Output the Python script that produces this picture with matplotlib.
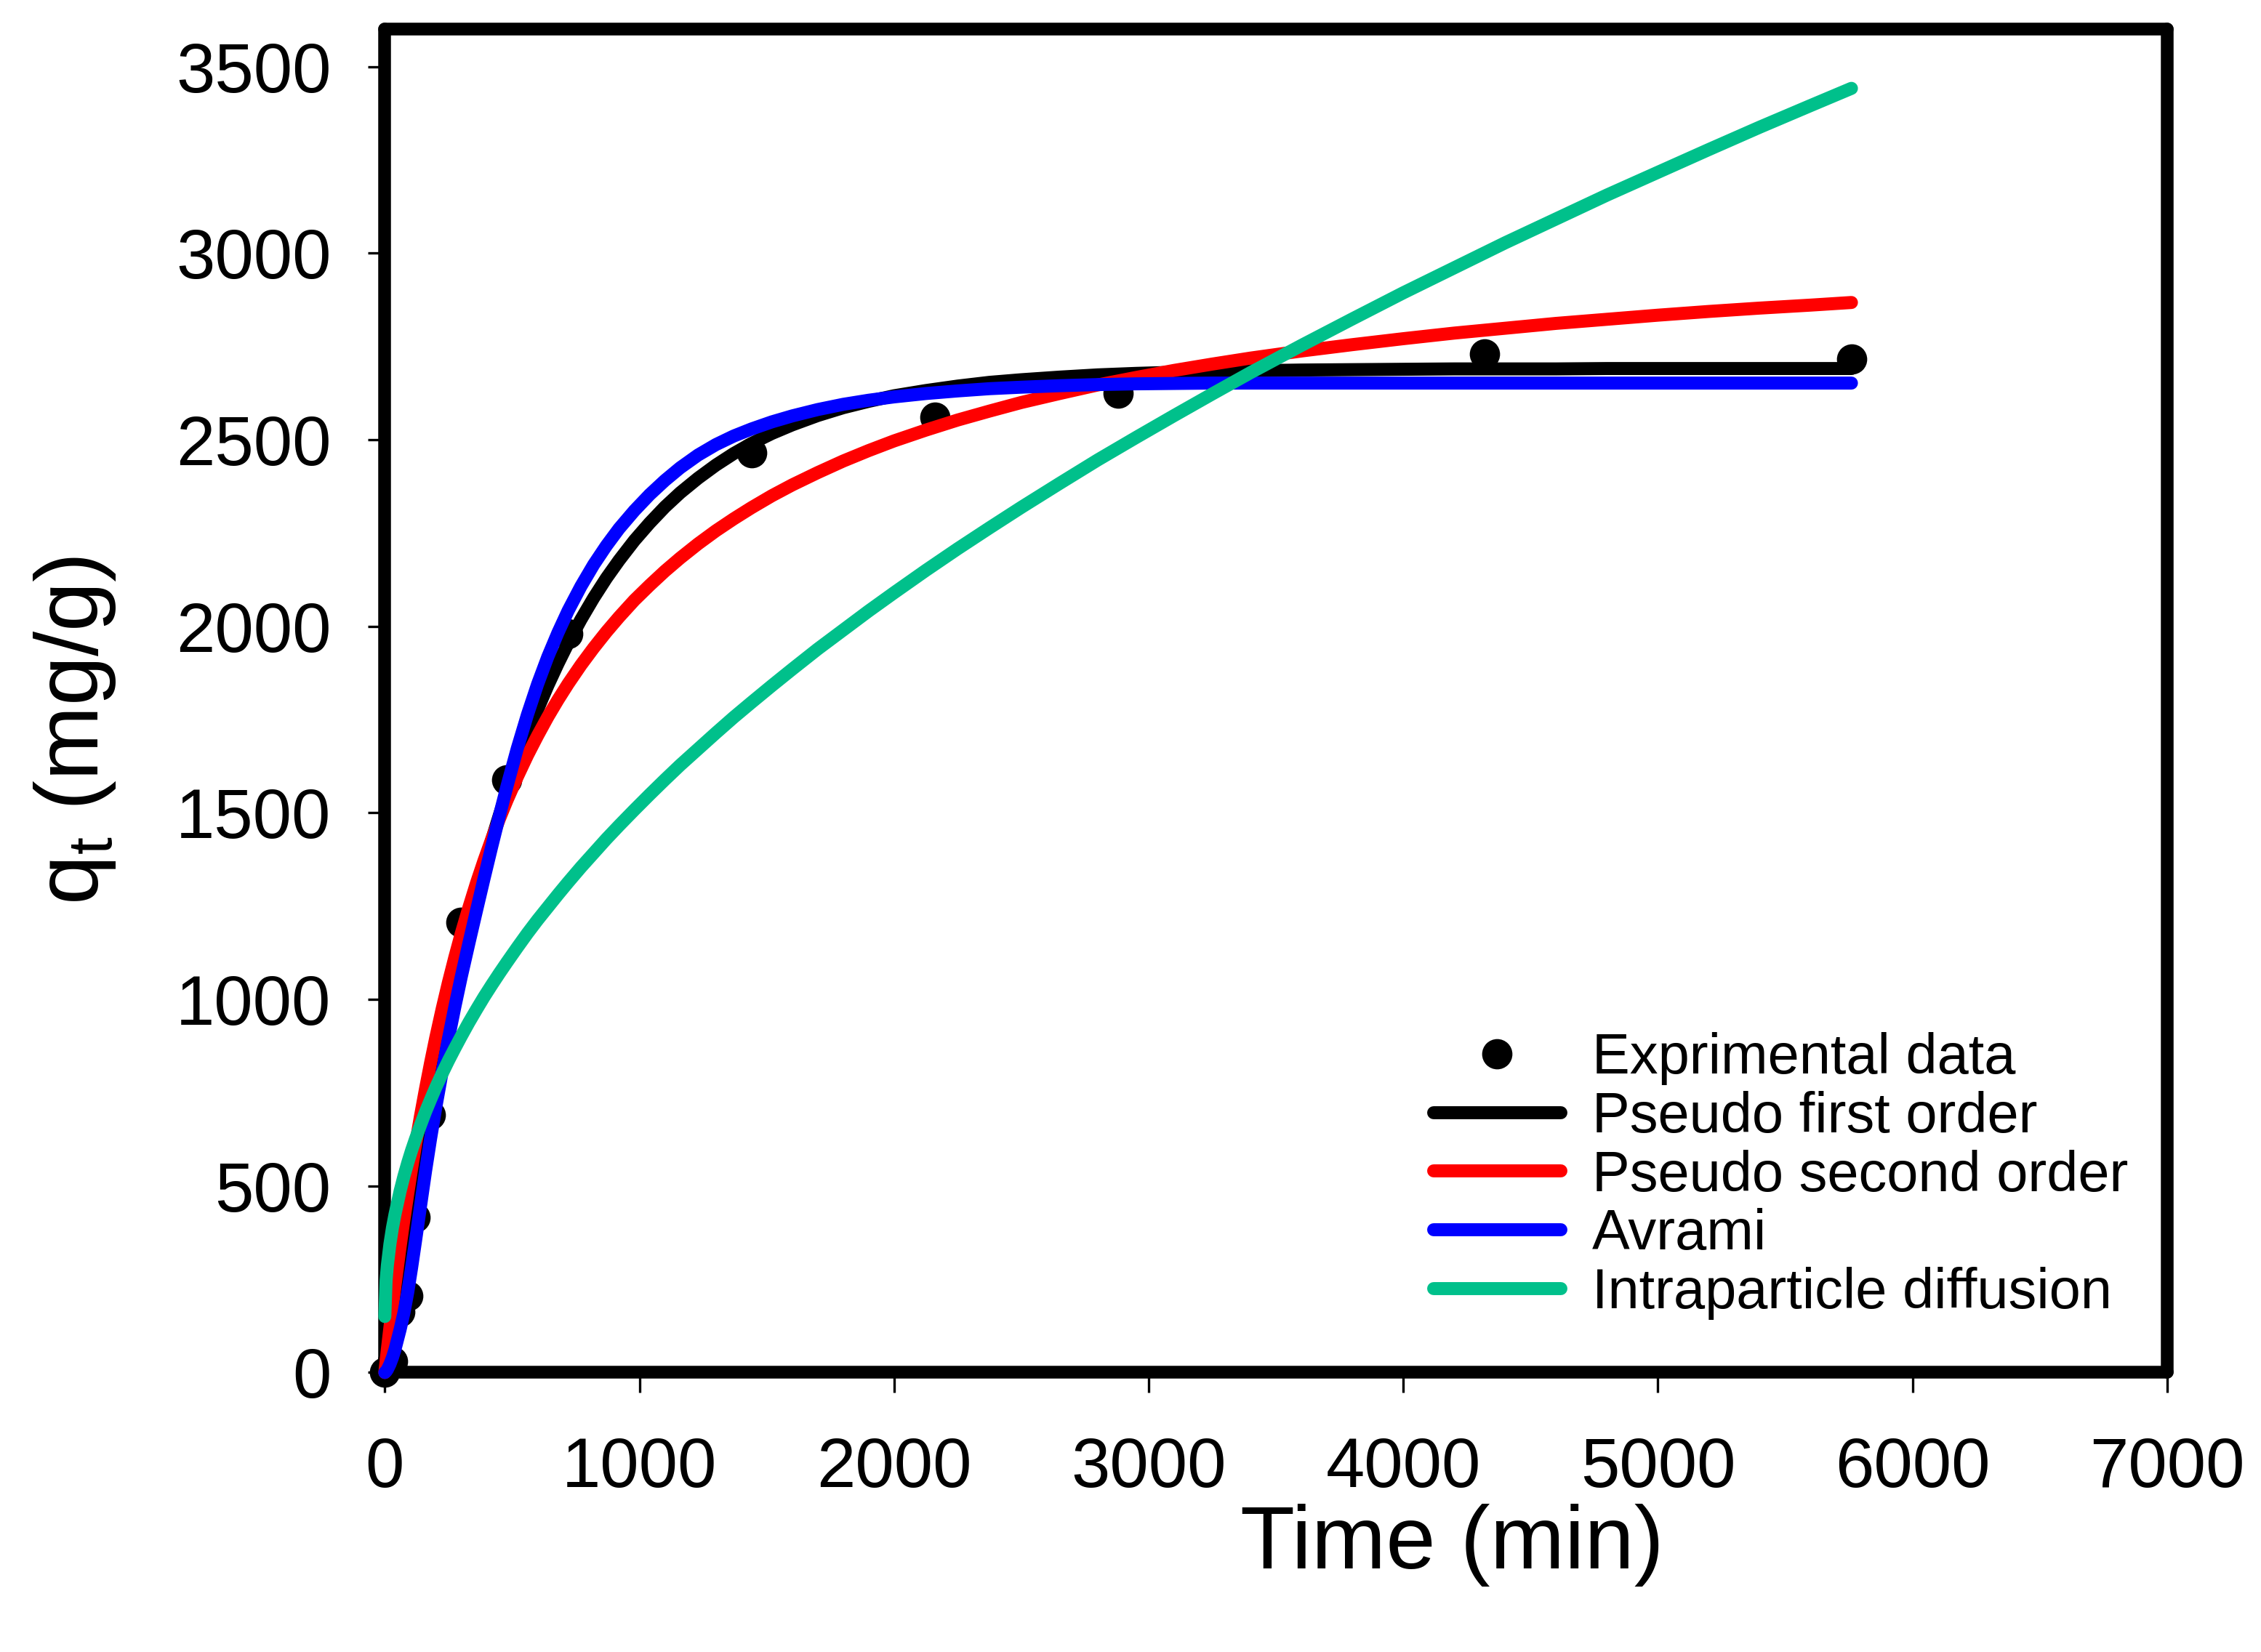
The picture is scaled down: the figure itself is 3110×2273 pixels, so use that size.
import matplotlib
matplotlib.use("Agg")
import matplotlib.pyplot as plt

plt.rcParams['font.family'] = ['Liberation Sans', 'DejaVu Sans']
plt.rcParams['mathtext.fontset'] = 'custom'
plt.rcParams['mathtext.rm'] = 'Liberation Sans'
plt.rcParams['mathtext.it'] = 'Liberation Sans:italic'

# ---- data ----
t_exp = [0, 30, 60, 90, 120, 180, 300, 480, 720, 1440, 2160, 2880, 4320, 5760]
q_exp = [0, 30, 162, 205, 415, 690, 1207, 1588, 1980, 2465, 2560, 2625, 2730, 2717]

t_fit = [0, 5, 10, 20, 30, 40, 60, 75, 90, 105, 120, 140, 160, 180, 200, 225, 250,
         275, 300, 330, 360, 390, 420, 450, 480, 520, 560, 600, 640, 680, 720, 770,
         820, 870, 920, 980, 1040, 1100, 1160, 1230, 1300, 1370, 1440, 1520, 1600,
         1700, 1800, 1900, 2000, 2125, 2250, 2375, 2500, 2650, 2800, 2950, 3100,
         3250, 3400, 3600, 3800, 4000, 4200, 4400, 4600, 4800, 5000, 5200, 5400,
         5600, 5760]

q_pfo = [0, 24, 48, 95, 142, 187, 276, 340, 403, 463, 523, 599, 673, 745, 814, 896,
         975, 1051, 1123, 1205, 1283, 1357, 1428, 1494, 1557, 1636, 1709, 1777, 1841,
         1900, 1955, 2018, 2076, 2129, 2177, 2230, 2277, 2320, 2358, 2397, 2432, 2463,
         2490, 2517, 2540, 2565, 2586, 2603, 2618, 2632, 2644, 2654, 2661, 2668, 2674,
         2678, 2681, 2683, 2685, 2687, 2688, 2689, 2690, 2690, 2690, 2691, 2691, 2691,
         2691, 2691, 2691]

q_pso = [0, 31, 62, 121, 178, 233, 337, 410, 479, 545, 608, 687, 761, 831, 897, 974,
         1046, 1113, 1176, 1246, 1312, 1373, 1430, 1484, 1534, 1596, 1654, 1707, 1757,
         1803, 1846, 1896, 1942, 1985, 2025, 2070, 2110, 2148, 2183, 2221, 2256, 2288,
         2318, 2350, 2379, 2412, 2443, 2471, 2497, 2526, 2553, 2577, 2600, 2624, 2647,
         2667, 2686, 2703, 2719, 2738, 2755, 2771, 2786, 2799, 2812, 2823, 2834, 2844,
         2853, 2861, 2868]

q_avrami = [0, 3, 8, 22, 40, 62, 115, 160, 215, 280, 350, 445, 540, 628, 710, 805,
            895, 980, 1060, 1150, 1238, 1325, 1410, 1492, 1572, 1672, 1763, 1845, 1918,
            1983, 2042, 2107, 2165, 2216, 2262, 2310, 2353, 2391, 2425, 2459, 2487,
            2510, 2529, 2548, 2564, 2581, 2595, 2606, 2615, 2624, 2631, 2637, 2641,
            2645, 2648, 2650, 2651, 2652, 2652, 2652, 2652, 2652, 2652, 2652, 2652,
            2652, 2652, 2652, 2652, 2652, 2652]

q_ipd = [150, 247, 287, 344, 388, 424, 486, 526, 562, 595, 625, 663, 699, 732, 764,
         801, 836, 869, 901, 938, 973, 1007, 1039, 1070, 1100, 1139, 1177, 1213, 1247,
         1281, 1314, 1354, 1392, 1430, 1466, 1508, 1549, 1589, 1628, 1671, 1714, 1756,
         1796, 1841, 1885, 1939, 1990, 2041, 2090, 2150, 2208, 2264, 2319, 2383, 2446,
         2506, 2565, 2623, 2680, 2753, 2824, 2894, 2961, 3028, 3092, 3156, 3217, 3278,
         3338, 3396, 3442]

labels = ["Exprimental data", "Pseudo first order", "Pseudo second order",
          "Avrami", "Intraparticle diffusion"]
colors = ["black", "#ff0000", "#0000ff", "#00c08b"]

x_ticks = [0, 1000, 2000, 3000, 4000, 5000, 6000, 7000]
y_ticks = [0, 500, 1000, 1500, 2000, 2500, 3000, 3500]

# ---- figure ----
fig = plt.figure(figsize=(3110 / 300, 2273 / 300), dpi=300)
ax = fig.add_axes([0.1702, 0.1692, 0.7883, 0.8130])

ax.plot(t_exp, q_exp, 'o', color='black', markersize=10, markeredgewidth=0,
        zorder=2.6, clip_on=False, label=labels[0])
lw = 4.3
for q, c, lab in zip([q_pfo, q_pso, q_avrami, q_ipd], colors, labels[1:]):
    ax.plot(t_fit, q, '-', color=c, linewidth=lw, solid_capstyle='round',
            solid_joinstyle='round', zorder=3, clip_on=False, label=lab)

ax.set_xlim(0, 7000)
ax.set_ylim(0, 3600)
ax.set_xticks(x_ticks)
ax.set_yticks(y_ticks)

for s in ax.spines.values():
    s.set_linewidth(4.2)
    s.set_capstyle('round')
    s.set_joinstyle('round')

ax.tick_params(axis='both', which='both', direction='out', width=0.8,
               labelsize=23, top=False, right=False)
ax.tick_params(axis='x', length=6.8, pad=14.3)
ax.tick_params(axis='y', length=5.5, pad=12.2)

ax.set_xlabel("Time (min)", fontsize=29.5)
ax.set_ylabel(r"q$_\mathrm{t}$ (mg/g)", fontsize=29.5)
ax.xaxis.set_label_coords(0.599, -0.0977)
ax.yaxis.set_label_coords(-0.150, 0.478)

leg = ax.legend(loc='upper left', bbox_to_anchor=(1972 / 3110, 1 - 1420 / 2273),
                bbox_transform=fig.transFigure, frameon=False, fontsize=18.65,
                handlelength=2.25, handletextpad=0.55, labelspacing=0.1,
                borderpad=0, borderaxespad=0, numpoints=1)

fig.savefig("out.png", dpi=300)
